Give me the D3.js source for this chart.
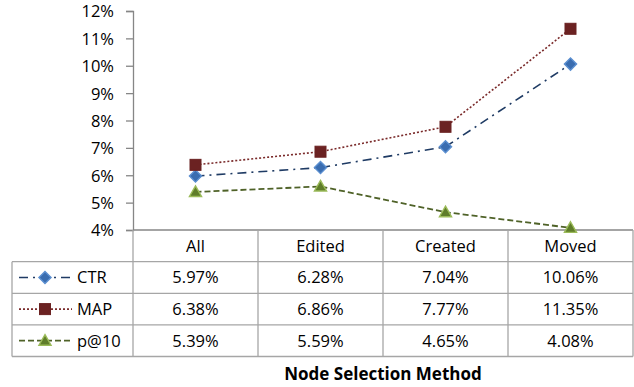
<!DOCTYPE html>
<html>
<head>
<meta charset="utf-8">
<script src="https://cdn.jsdelivr.net/npm/d3@7/dist/d3.min.js"></script>
<style>
  html, body { margin: 0; padding: 0; background: #fff; }
  svg { display: block; }
  text { font-family: "Open Sans", "Liberation Sans", sans-serif; fill: #000; }
</style>
</head>
<body>
<svg id="chart" width="634" height="387"></svg>
<script>
// Node selection methods along the x axis
const categories = ["All", "Edited", "Created", "Moved"];
// Series values (fractions)
const ctr = [0.0597, 0.0628, 0.0704, 0.1006];
const map = [0.0638, 0.0686, 0.0777, 0.1135];
const p10 = [0.0539, 0.0559, 0.0465, 0.0408];
const seriesNames = ["CTR", "MAP", "p@10"];
const yTicks = [0.04, 0.05, 0.06, 0.07, 0.08, 0.09, 0.10, 0.11, 0.12];
const xTitle = "Node Selection Method";

const svg = d3.select("#chart");
const plotLeft = 133, plotRight = 633, plotTop = 11, plotBottom = 230;
const rowH = 31.6, headH = 31.7, tableLeft = 12;
const fontSize = "16.5px";

const x = d3.scaleBand().domain(categories).range([plotLeft, plotRight]);
const y = d3.scaleLinear().domain([0.04, 0.12]).range([plotBottom, plotTop]);

const gridColor = "#a6a6a6";
const axisColor = "#868686";

// y axis
const yAxis = d3.axisLeft(y).tickValues(yTicks).tickSize(7).tickPadding(12)
  .tickFormat(d3.format(".0%"));
const gy = svg.append("g").attr("transform", `translate(${plotLeft},0)`).call(yAxis);
gy.select(".domain").attr("stroke", axisColor).attr("stroke-width", 1.3);
gy.selectAll(".tick line").attr("stroke", axisColor).attr("stroke-width", 1.3);
gy.selectAll(".tick text").style("font-size", fontSize).attr("dy", "0.36em");

// series styling
const series = [
  { name: seriesNames[0], values: ctr, line: "#1f3b64", dash: "9,5,2,5", width: 1.6, marker: "diamond", fill: "#3a6db0", stroke: "#5b8fd0" },
  { name: seriesNames[1], values: map, line: "#7a2a2a", dash: "2,2", width: 1.6, marker: "square", fill: "#6b2222", stroke: "#6b2222" },
  { name: seriesNames[2], values: p10, line: "#4f6228", dash: "6,3", width: 1.8, marker: "triangle", fill: "#5f7d2a", stroke: "#9bbb59" }
];

const cx = c => x(c) + x.bandwidth() / 2;
const line = d3.line().x((d, i) => cx(categories[i])).y(d => y(d));

function drawMarker(g, kind, px, py, s, fill, stroke) {
  if (kind === "diamond") {
    const r = s * 0.55;
    g.append("path").attr("d", `M${px},${py - r}L${px + r},${py}L${px},${py + r}L${px - r},${py}Z`)
      .attr("fill", fill).attr("stroke", stroke).attr("stroke-width", 1.4);
  } else if (kind === "square") {
    const r = s * 0.5;
    g.append("rect").attr("x", px - r).attr("y", py - r).attr("width", 2 * r).attr("height", 2 * r)
      .attr("fill", fill).attr("stroke", stroke);
  } else {
    const r = s * 0.55;
    g.append("path").attr("d", `M${px},${py - r}L${px + r},${py + r * 0.75}L${px - r},${py + r * 0.75}Z`)
      .attr("fill", fill).attr("stroke", stroke).attr("stroke-width", 1.4);
  }
}

// table grid
const tableTop = plotBottom;
const rowsTop = tableTop + headH;
const tableBottom = rowsTop + rowH * series.length;
const tg = svg.append("g");
tg.append("line").attr("x1", plotLeft).attr("x2", plotRight).attr("y1", tableTop).attr("y2", tableTop)
  .attr("stroke", axisColor).attr("stroke-width", 1.3);
for (let i = 0; i <= series.length; i++) {
  const yy = rowsTop + i * rowH;
  tg.append("line").attr("x1", tableLeft).attr("x2", plotRight).attr("y1", yy).attr("y2", yy)
    .attr("stroke", gridColor).attr("stroke-width", 1.3);
}
categories.forEach(c => {
  tg.append("line").attr("x1", x(c) + x.bandwidth()).attr("x2", x(c) + x.bandwidth())
    .attr("y1", tableTop).attr("y2", tableBottom).attr("stroke", gridColor).attr("stroke-width", 1.3);
});
tg.append("line").attr("x1", plotLeft).attr("x2", plotLeft).attr("y1", tableTop).attr("y2", tableBottom)
  .attr("stroke", gridColor).attr("stroke-width", 1.3);
tg.append("line").attr("x1", tableLeft).attr("x2", tableLeft).attr("y1", rowsTop).attr("y2", tableBottom)
  .attr("stroke", gridColor).attr("stroke-width", 1.3);

// header labels
categories.forEach(c => {
  tg.append("text").attr("x", cx(c)).attr("y", tableTop + headH / 2).attr("dy", "0.36em")
    .attr("text-anchor", "middle").style("font-size", fontSize).text(c);
});

// value cells and legend keys
const pct = d3.format(".2%");
series.forEach((s, r) => {
  const ym = rowsTop + rowH * r + rowH / 2;
  categories.forEach((c, i) => {
    tg.append("text").attr("x", cx(c)).attr("y", ym).attr("dy", "0.36em")
      .attr("text-anchor", "middle").style("font-size", fontSize).text(pct(s.values[i]));
  });
  const kg = tg.append("g");
  kg.append("line").attr("x1", 19).attr("x2", 72).attr("y1", ym).attr("y2", ym)
    .attr("stroke", s.line).attr("stroke-width", s.width).attr("stroke-dasharray", s.dash);
  drawMarker(kg, s.marker, 45, ym, 11, s.fill, s.stroke);
  kg.append("text").attr("x", 77).attr("y", ym).attr("dy", "0.36em").style("font-size", fontSize).text(s.name);
});

// lines and markers
series.forEach(s => {
  svg.append("path").datum(s.values).attr("d", line).attr("fill", "none")
    .attr("stroke", s.line).attr("stroke-width", s.width).attr("stroke-dasharray", s.dash);
});
series.forEach(s => {
  const g = svg.append("g");
  s.values.forEach((v, i) => drawMarker(g, s.marker, cx(categories[i]), y(v), 11, s.fill, s.stroke));
});

// x title
svg.append("text").attr("x", (plotLeft + plotRight) / 2).attr("y", 374).attr("dy", "0.36em")
  .attr("text-anchor", "middle").style("font-size", "17px").style("font-weight", "bold").text(xTitle);
</script>
</body>
</html>
